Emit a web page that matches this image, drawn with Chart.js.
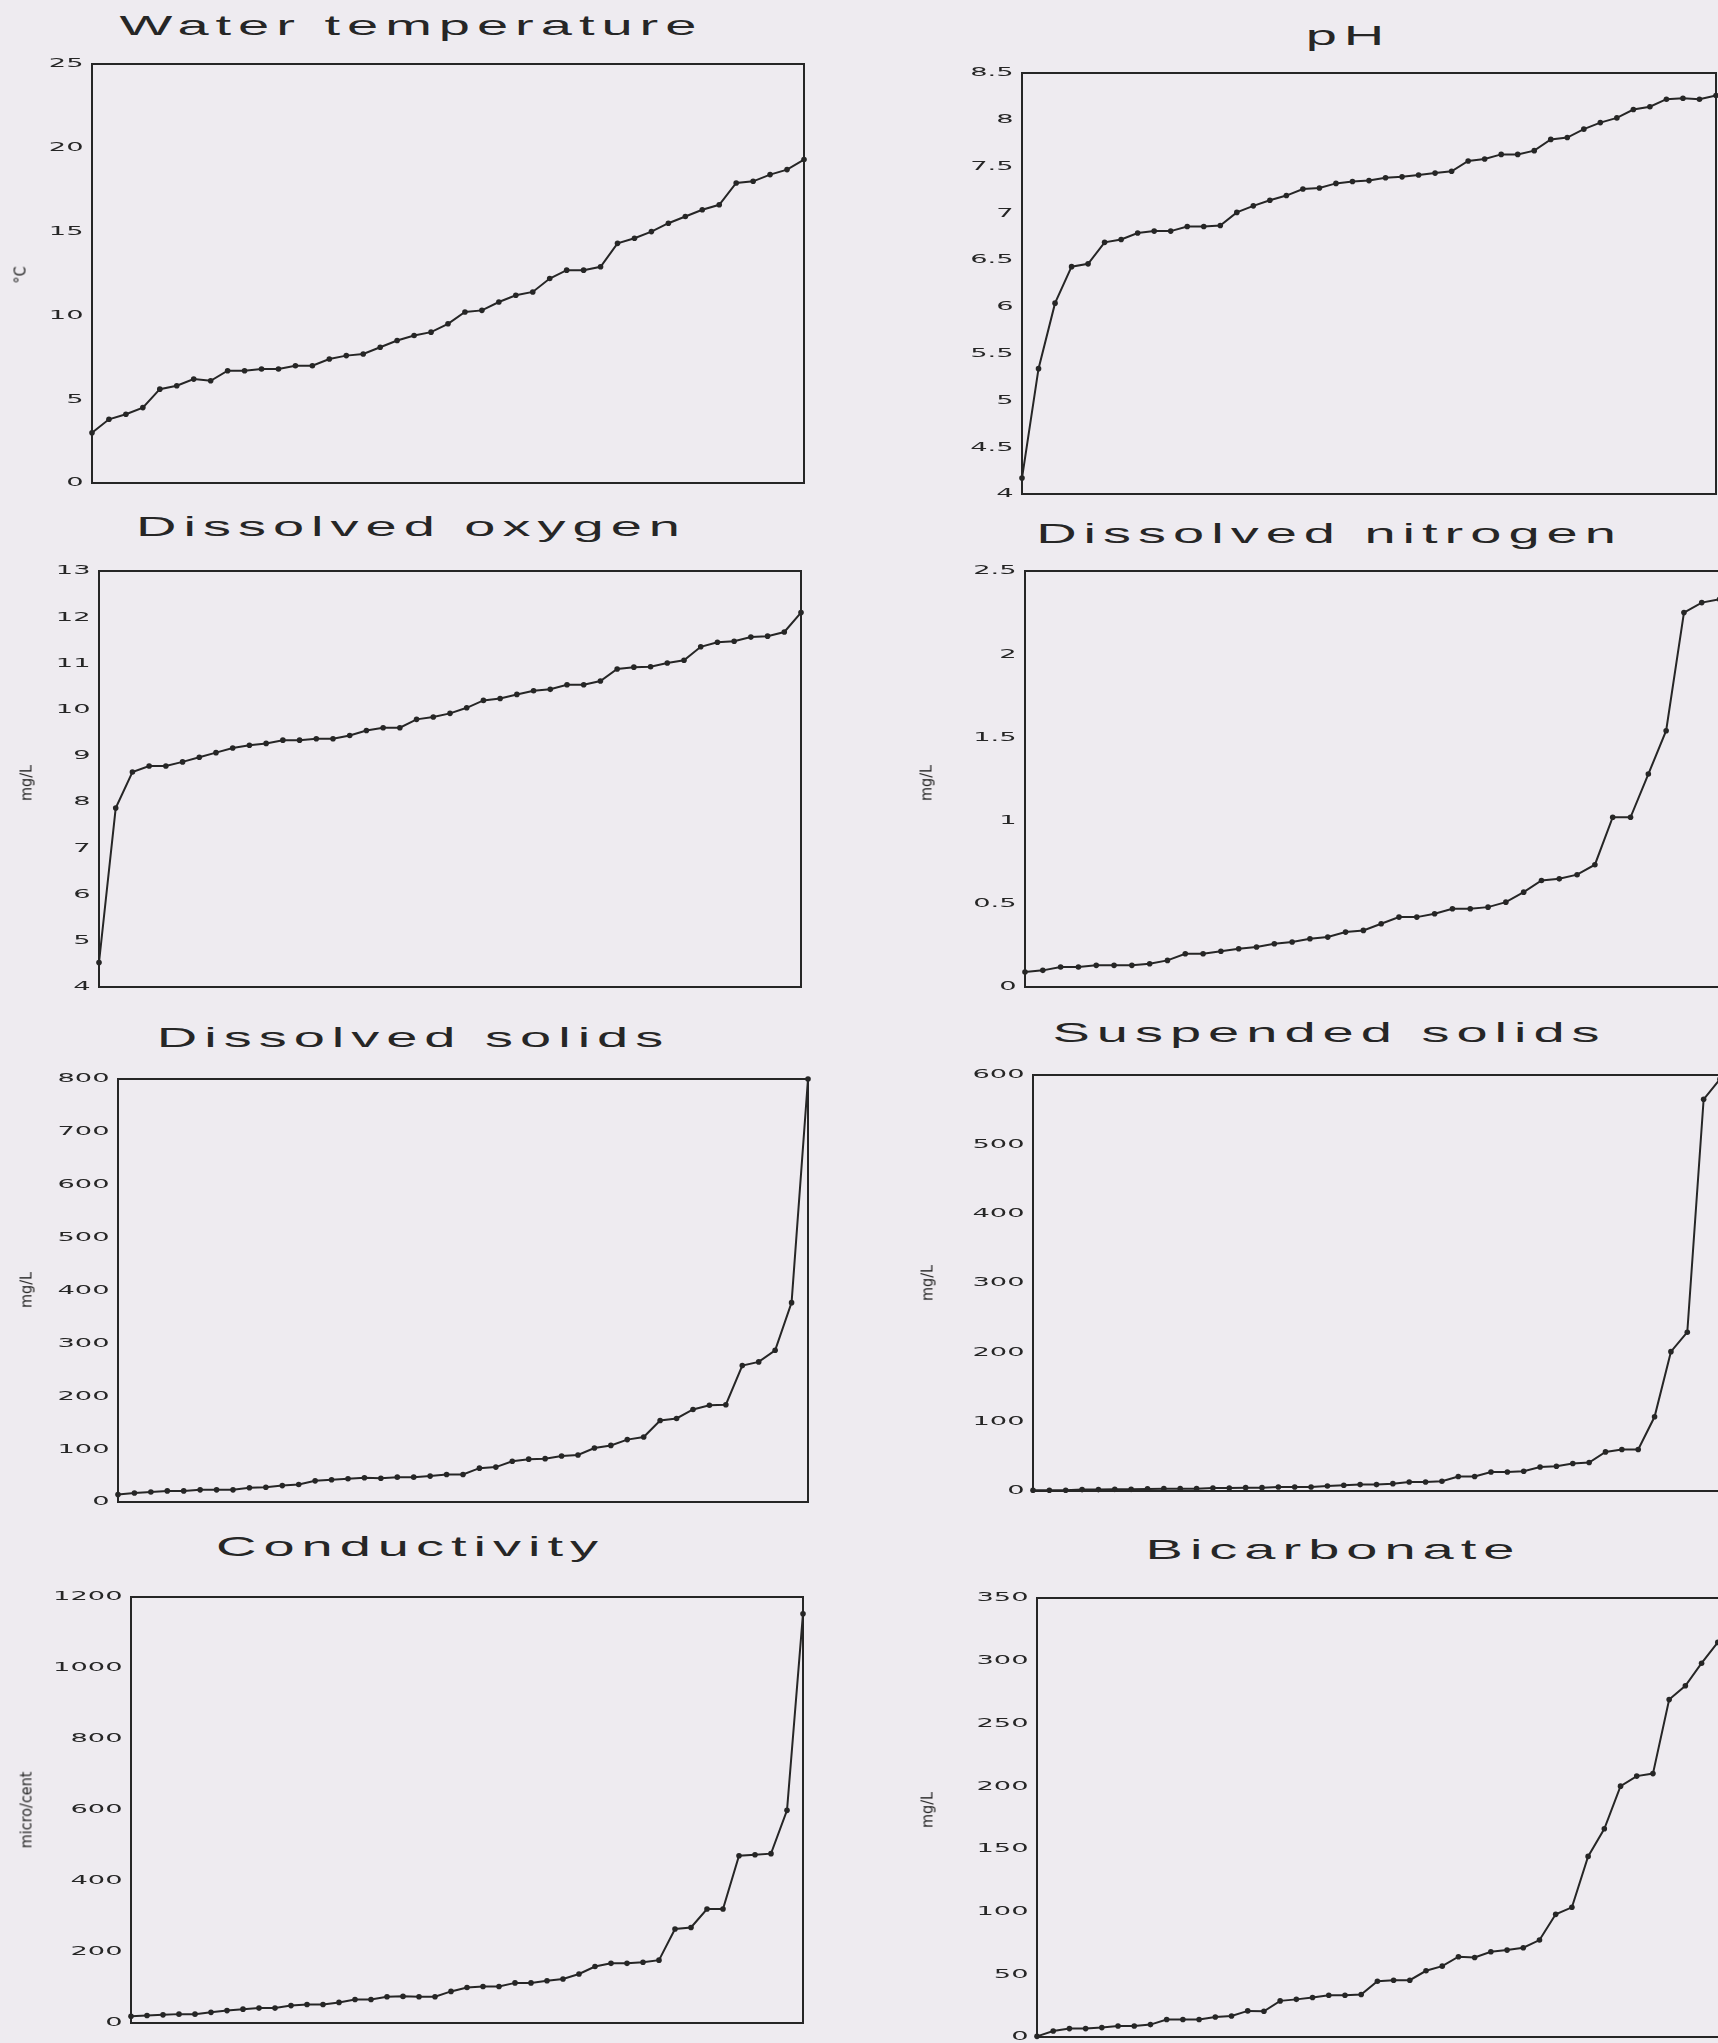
<!DOCTYPE html>
<html>
<head>
<meta charset="utf-8">
<title>Water quality, ranked by site</title>
<script src="https://cdn.jsdelivr.net/npm/chart.js@4.4.0/dist/chart.umd.min.js"></script>
<style>
  html, body { margin: 0; padding: 0; }
  body {
    position: relative;
    width: 1718px;
    height: 2043px;
    overflow: hidden;
    background: #eeebf0;
    color: #262626;
    font-family: "Liberation Sans", Arial, sans-serif;
  }
  canvas { position: absolute; }
  .title {
    position: absolute;
    white-space: nowrap;
    font-size: 28px;
    letter-spacing: 3.5px;
    padding-left: 3.5px;
    transform: translate(-50%, -50%) scaleX(2);
  }
  .unit {
    position: absolute;
    white-space: nowrap;
    font-family: "Liberation Sans Narrow", "DejaVu Sans Condensed", sans-serif;
    font-size: 16px;
    transform: translate(-50%, -50%) rotate(-90deg);
  }
</style>
</head>
<body>
<script>
// sites sorted from lowest to highest reading, one list per parameter
const waterTemp = [3.0, 3.8, 4.1, 4.5, 5.6, 5.8, 6.2, 6.1, 6.7, 6.7, 6.8, 6.8, 7.0, 7.0, 7.4, 7.6, 7.7, 8.1, 8.5, 8.8, 9.0, 9.5,
  10.2, 10.3, 10.8, 11.2, 11.4, 12.2, 12.7, 12.7, 12.9, 14.3, 14.6, 15.0, 15.5, 15.9, 16.3, 16.6, 17.9, 18.0, 18.4, 18.7, 19.3];
const pH = [4.17, 5.34, 6.04, 6.43, 6.46, 6.69, 6.72, 6.79, 6.81, 6.81, 6.86, 6.86, 6.87, 7.01, 7.08, 7.14, 7.19, 7.26, 7.27,
  7.32, 7.34, 7.35, 7.38, 7.39, 7.41, 7.43, 7.45, 7.56, 7.58, 7.63, 7.63, 7.67, 7.79, 7.81, 7.90, 7.97, 8.02, 8.11, 8.14,
  8.22, 8.23, 8.22, 8.26];
const dissolvedOxygen = [4.53, 7.87, 8.65, 8.78, 8.78, 8.87, 8.97, 9.07, 9.17, 9.23, 9.27, 9.34, 9.34, 9.37, 9.37, 9.44, 9.55,
  9.61, 9.61, 9.79, 9.84, 9.92, 10.04, 10.20, 10.24, 10.33, 10.41, 10.44, 10.54, 10.54, 10.62, 10.88, 10.92, 10.93, 11.01,
  11.07, 11.36, 11.46, 11.48, 11.57, 11.59, 11.68, 12.10];
const dissolvedNitrogen = [0.09, 0.10, 0.12, 0.12, 0.13, 0.13, 0.13, 0.14, 0.16, 0.20, 0.20, 0.215, 0.23, 0.24, 0.26, 0.27,
  0.29, 0.30, 0.33, 0.34, 0.38, 0.42, 0.42, 0.44, 0.47, 0.47, 0.48, 0.51, 0.57, 0.64, 0.65, 0.675, 0.735, 1.02, 1.02, 1.28,
  1.54, 2.25, 2.31, 2.33];
const dissolvedSolids = [14, 17, 19, 21, 21, 23, 23, 23, 27, 28, 31, 33, 40, 42, 44, 46, 45, 47, 47, 49, 52, 52, 64, 66, 77,
  81, 82, 87, 89, 102, 107, 118, 123, 154, 158, 175, 183, 184, 258, 265, 287, 377, 800];
const suspendedSolids = [1, 1, 1, 2, 2, 2.4, 2.4, 3, 3.4, 3.4, 3.4, 4.3, 4.3, 4.8, 4.8, 5.8, 5.8, 5.8, 7.2, 8.2, 9.2, 9.2, 10.6,
  13, 13, 14, 21, 21, 27.5, 27.5, 28.5, 34.7, 35.7, 39.6, 41, 56.4, 59.8, 59.8, 107, 201, 229, 565, 594];
const conductivity = [19, 21, 23, 25, 25, 30, 35, 39, 42, 42, 49, 52, 52, 58, 66, 66, 74, 75, 74, 74, 89, 100, 103, 103, 113,
  113, 119, 124, 138, 159, 168, 168, 171, 177, 265, 269, 321, 321, 471, 474, 477, 599, 1153];
const bicarbonate = [0.5, 4.8, 6.7, 6.7, 7.5, 8.8, 8.8, 9.9, 14, 14, 14, 16, 16.8, 20.8, 20.5, 28.8, 30, 31.5, 33.3, 33.3, 33.9,
  44.5, 45.3, 45.3, 52.8, 56.5, 64, 63.4, 68, 69.3, 71.2, 77.3, 97.8, 103.4, 144, 166, 200, 208, 210, 269, 280, 298, 314.6];

// y-axis tick values
const tempTicks = [0, 5, 10, 15, 20, 25];
const pHTicks = [4, 4.5, 5, 5.5, 6, 6.5, 7, 7.5, 8, 8.5];
const oxygenTicks = [4, 5, 6, 7, 8, 9, 10, 11, 12, 13];
const nitrogenTicks = [0, 0.5, 1, 1.5, 2, 2.5];
const dissolvedTicks = [0, 100, 200, 300, 400, 500, 600, 700, 800];
const suspendedTicks = [0, 100, 200, 300, 400, 500, 600];
const conductTicks = [0, 200, 400, 600, 800, 1000, 1200];
const bicarbTicks = [0, 50, 100, 150, 200, 250, 300, 350];

const INK = '#262626';
const PAD = 14;
const LABEL_STRETCH = 2.1;

// box = plot frame [left, top, right, bottom]; col = left edge of the canvas
const panels = [
  { title: 'Water temperature', unit: '°C', values: waterTemp, ticks: tempTicks, slots: 43,
    box: [92, 64, 804, 483], col: 20, titleAt: [408, 26], unitAt: [20, 275] },
  { title: 'pH', unit: '', values: pH, ticks: pHTicks, slots: 43,
    box: [1022, 73, 1716, 494], col: 935, titleAt: [1345, 36] },
  { title: 'Dissolved oxygen', unit: 'mg/L', values: dissolvedOxygen, ticks: oxygenTicks, slots: 43,
    box: [99, 571, 801, 987], col: 20, titleAt: [408, 527], unitAt: [26, 783] },
  { title: 'Dissolved nitrogen', unit: 'mg/L', values: dissolvedNitrogen, ticks: nitrogenTicks, slots: 43,
    box: [1025, 571, 1773, 987], col: 935, titleAt: [1326, 534], unitAt: [926, 783] },
  { title: 'Dissolved solids', unit: 'mg/L', values: dissolvedSolids, ticks: dissolvedTicks, slots: 43,
    box: [118, 1079, 808, 1502], col: 20, titleAt: [410, 1038], unitAt: [26, 1290] },
  { title: 'Suspended solids', unit: 'mg/L', values: suspendedSolids, ticks: suspendedTicks, slots: 43,
    box: [1033, 1075, 1720, 1491], col: 935, titleAt: [1326, 1033], unitAt: [927, 1283] },
  { title: 'Conductivity', unit: 'micro/cent', values: conductivity, ticks: conductTicks, slots: 43,
    box: [131, 1597, 803, 2023], col: 20, titleAt: [407, 1547], unitAt: [26, 1810] },
  { title: 'Bicarbonate', unit: 'mg/L', values: bicarbonate, ticks: bicarbTicks, slots: 44,
    box: [1037, 1598, 1734, 2037], col: 935, titleAt: [1330, 1550], unitAt: [927, 1810] }
];

// extended tick lettering (stretched out from the axis line) + closed frame round the plot
const framePlugin = {
  id: 'frame',
  beforeDraw(chart) {
    const y = chart.scales.y;
    if (y._stretched) return;
    const drawLabels = y.drawLabels.bind(y);
    y.drawLabels = area => {
      const ctx = chart.ctx;
      const xr = y.right;
      ctx.save();
      ctx.translate(xr, 0);
      ctx.scale(LABEL_STRETCH, 1);
      ctx.translate(-xr, 0);
      drawLabels(area);
      ctx.restore();
    };
    y._stretched = true;
  },
  afterDatasetsDraw(chart) {
    const { ctx, chartArea: a } = chart;
    ctx.save();
    ctx.strokeStyle = INK;
    ctx.lineWidth = 2;
    ctx.strokeRect(a.left, a.top, a.right - a.left, a.bottom - a.top);
    ctx.restore();
  }
};

function addText(cls, text, at) {
  const el = document.createElement('div');
  el.className = cls;
  el.textContent = text;
  el.style.left = at[0] + 'px';
  el.style.top = at[1] + 'px';
  document.body.appendChild(el);
}

panels.forEach(p => {
  const [x1, y1, x2, y2] = p.box;
  const canvas = document.createElement('canvas');
  canvas.width = x2 + 6 - p.col;
  canvas.height = y2 - y1 + 2 * PAD;
  canvas.style.left = p.col + 'px';
  canvas.style.top = (y1 - PAD) + 'px';
  document.body.appendChild(canvas);

  new Chart(canvas, {
    type: 'line',
    data: {
      datasets: [{
        data: p.values.map((v, i) => ({ x: i, y: v })),
        borderColor: INK,
        borderWidth: 2,
        pointRadius: 2.8,
        pointBackgroundColor: INK,
        pointBorderWidth: 0,
        tension: 0,
        clip: false
      }]
    },
    options: {
      responsive: false,
      animation: false,
      events: [],
      layout: { padding: { top: PAD, bottom: PAD, left: 0, right: 6 } },
      plugins: { legend: { display: false }, tooltip: { enabled: false } },
      scales: {
        x: { type: 'linear', display: false, min: 0, max: p.slots - 1 },
        y: {
          min: p.ticks[0],
          max: p.ticks[p.ticks.length - 1],
          afterBuildTicks: s => { s.ticks = p.ticks.map(v => ({ value: v })); },
          afterFit: s => { s.width = x1 - p.col; },
          grid: { display: false, drawTicks: false },
          border: { display: false },
          ticks: {
            autoSkip: false,
            padding: 4,
            color: INK,
            font: { family: 'DejaVu Sans', size: 13 },
            callback: v => String(v)
          }
        }
      }
    },
    plugins: [framePlugin]
  });

  addText('title', p.title, p.titleAt);
  if (p.unit) addText('unit', p.unit, p.unitAt);
});
</script>
</body>
</html>
